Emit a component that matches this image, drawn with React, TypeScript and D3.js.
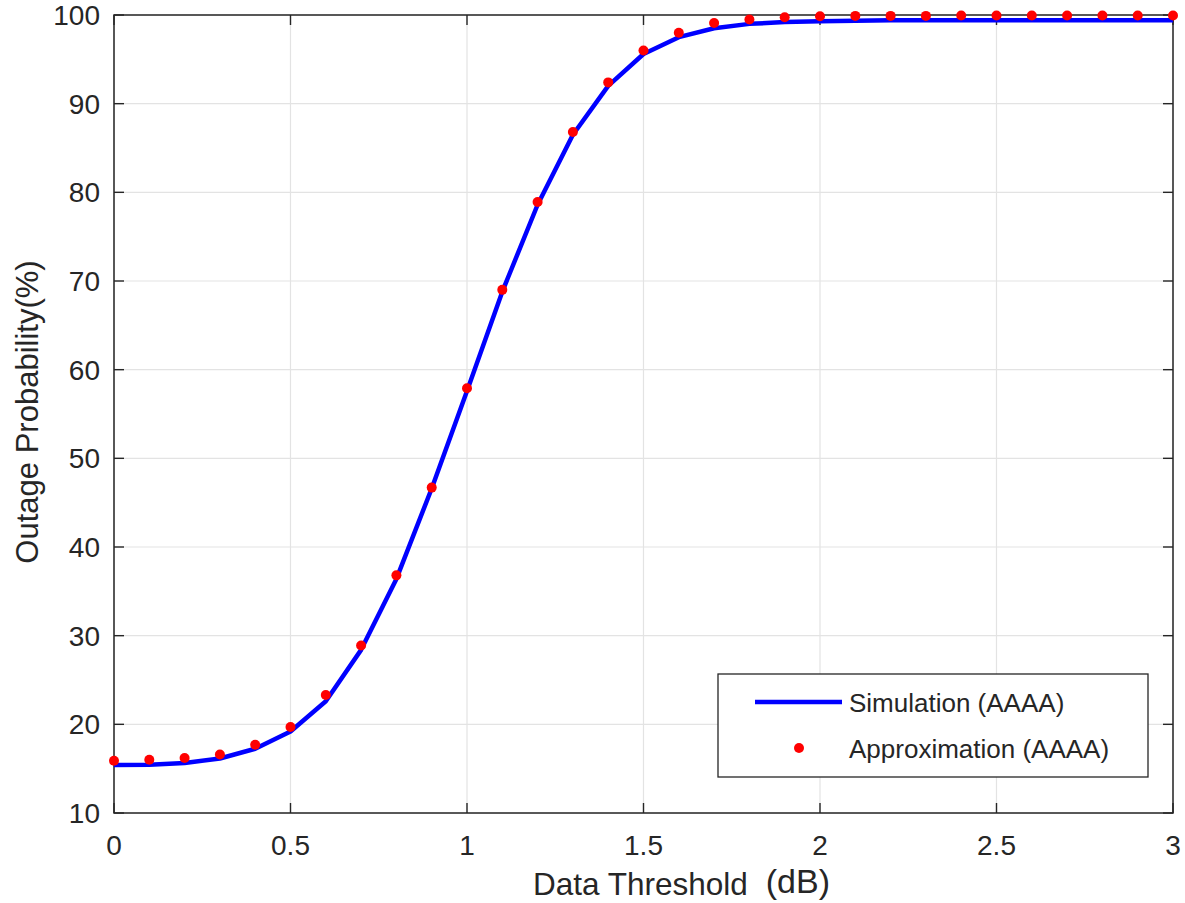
import React from "react";
import * as d3 from "d3";

const thresholds = [0, 0.1, 0.2, 0.3, 0.4, 0.5, 0.6, 0.7, 0.8, 0.9, 1.0, 1.1, 1.2, 1.3, 1.4, 1.5, 1.6, 1.7, 1.8, 1.9, 2.0, 2.1, 2.2, 2.3, 2.4, 2.5, 2.6, 2.7, 2.8, 2.9, 3.0];
const simulation = [15.4, 15.45, 15.65, 16.15, 17.25, 19.2, 22.6, 28.4, 36.4, 46.6, 57.6, 68.8, 78.6, 86.5, 92.0, 95.6, 97.5, 98.5, 99.0, 99.2, 99.3, 99.35, 99.4, 99.4, 99.4, 99.4, 99.4, 99.4, 99.4, 99.4, 99.4];
const approximation = [15.9, 16.0, 16.2, 16.6, 17.7, 19.7, 23.3, 28.9, 36.8, 46.7, 57.9, 69.0, 78.9, 86.8, 92.4, 96.0, 98.0, 99.1, 99.5, 99.75, 99.85, 99.9, 99.9, 99.9, 99.95, 99.95, 99.95, 99.95, 99.95, 99.95, 99.95];
const xTicks = [0, 0.5, 1, 1.5, 2, 2.5, 3];
const yTicks = [10, 20, 30, 40, 50, 60, 70, 80, 90, 100];
const seriesNames = ["Simulation (AAAA)", "Approximation (AAAA)"];

const W = 1185;
const H = 903;
const L = 114, R = 1173, T = 15, B = 813;
const FONT = "'Liberation Sans', Arial, Helvetica, sans-serif";
const TXT = "#262626";

export default function App() {
  const x = d3.scaleLinear().domain([0, 3]).range([L, R]);
  const y = d3.scaleLinear().domain([10, 100]).range([B, T]);
  const line = d3
    .line<number>()
    .x((_, i) => x(thresholds[i]))
    .y((d) => y(d))
    .curve(d3.curveLinear);
  const tickLen = 10;

  return (
    <svg width={W} height={H} style={{ position: "absolute", left: 0, top: 0, background: "#fff" }}>
      <rect x={0} y={0} width={W} height={H} fill="#fff" />
      {/* grid */}
      {xTicks.map((t) => (
        <line key={"gx" + t} x1={x(t)} x2={x(t)} y1={T} y2={B} stroke="#e3e3e3" strokeWidth={1.2} />
      ))}
      {yTicks.map((t) => (
        <line key={"gy" + t} x1={L} x2={R} y1={y(t)} y2={y(t)} stroke="#e3e3e3" strokeWidth={1.2} />
      ))}
      {/* ticks */}
      {xTicks.map((t) => (
        <g key={"tx" + t}>
          <line x1={x(t)} x2={x(t)} y1={B} y2={B - tickLen} stroke={TXT} strokeWidth={1.4} />
          <line x1={x(t)} x2={x(t)} y1={T} y2={T + tickLen} stroke={TXT} strokeWidth={1.4} />
          <text x={x(t)} y={B + 42} textAnchor="middle" fontFamily={FONT} fontSize={28} fill={TXT}>
            {String(t)}
          </text>
        </g>
      ))}
      {yTicks.map((t) => (
        <g key={"ty" + t}>
          <line x1={L} x2={L + tickLen} y1={y(t)} y2={y(t)} stroke={TXT} strokeWidth={1.4} />
          <line x1={R} x2={R - tickLen} y1={y(t)} y2={y(t)} stroke={TXT} strokeWidth={1.4} />
          <text x={100} y={y(t)} dy="0.36em" textAnchor="end" fontFamily={FONT} fontSize={28} fill={TXT}>
            {String(t)}
          </text>
        </g>
      ))}
      {/* box */}
      <rect x={L} y={T} width={R - L} height={B - T} fill="none" stroke={TXT} strokeWidth={1.5} />
      {/* series */}
      <path d={line(simulation) || ""} fill="none" stroke="#0000ff" strokeWidth={4.5} strokeLinejoin="round" />
      {approximation.map((v, i) => (
        <circle key={"p" + i} cx={x(thresholds[i])} cy={y(v)} r={5} fill="#ff0000" />
      ))}
      {/* legend */}
      <rect x={718} y={674} width={430} height={103} fill="#fff" stroke={TXT} strokeWidth={1.3} />
      <line x1={755} x2={842} y1={702} y2={702} stroke="#0000ff" strokeWidth={4.5} />
      <text x={849} y={712} fontFamily={FONT} fontSize={26} fill={TXT}>
        {seriesNames[0]}
      </text>
      <circle cx={799} cy={748} r={5} fill="#ff0000" />
      <text x={849} y={758} fontFamily={FONT} fontSize={26} fill={TXT}>
        {seriesNames[1]}
      </text>
      {/* axis labels */}
      <text x={533} y={895} fontFamily={FONT} fontSize={31.5} fill={TXT}>
        Data Threshold
        <tspan dx={18} dy={-2} fontSize={34}>(dB)</tspan>
      </text>
      <text
        transform={`translate(38,${(T + B) / 2 - 2}) rotate(-90)`}
        textAnchor="middle"
        fontFamily={FONT}
        fontSize={31}
        fill={TXT}
      >
        Outage Probability(%)
      </text>
    </svg>
  );
}
